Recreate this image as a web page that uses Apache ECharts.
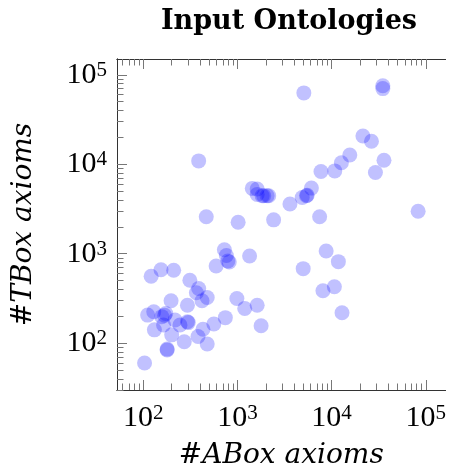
<!DOCTYPE html>
<html>
<head>
<meta charset="utf-8">
<script src="https://cdn.jsdelivr.net/npm/echarts@6/dist/echarts.min.js"></script>
<style>
  html, body { margin: 0; padding: 0; background: #fff; }
  #main { width: 449px; height: 475px; }
</style>
</head>
<body>
<div id="main"></div>
<script>
// ABox / TBox axiom counts per ontology
const aboxAxioms = [
  5070, 35000, 35000, 387, 21500, 26500, 36000, 29200, 15600, 12700,
  10800, 7710, 6100, 5400, 5500, 4870, 3610, 2420, 7460, 83000,
  1436, 1619, 1619, 1829, 2063, 2148, 1900,
  466, 1016, 726, 762, 818, 790, 593, 1345, 4990, 8750, 11800, 8090, 10700, 12900,
  121, 154, 210, 312, 387, 366, 477, 420, 197, 294, 985, 1194, 1619, 1782,
  743, 561, 430, 381, 477, 272, 200, 179, 179, 103, 294, 300, 245, 217, 164,
  173, 157, 129, 111, 131, 168
]
const tboxAxioms = [
  62700, 75500, 70000, 10900, 20700, 18100, 11100, 8090, 12700, 10400,
  8430, 8300, 5410, 4440, 4500, 4250, 3590, 2390, 2590, 2980,
  5370, 5280, 4600, 4450, 4450, 4450, 4450,
  2590, 2250, 1108, 957, 809, 830, 730, 942, 681, 1071, 815, 385, 427, 219,
  560, 663, 653, 505, 409, 366, 324, 298, 298, 266, 316, 245, 266, 157,
  193, 164, 143, 119, 98, 104, 124, 84, 86, 60, 174, 170, 160, 182, 160,
  215, 198, 225, 206, 141, 205
]

const majorTicks = [100, 1000, 10000, 100000]
const minorX = [60, 70, 80, 90, 200, 300, 400, 500, 600, 700, 800, 900,
  2000, 3000, 4000, 5000, 6000, 7000, 8000, 9000,
  20000, 30000, 40000, 50000, 60000, 70000, 80000, 90000]
const minorY = [30, 40, 50, 60, 70, 80, 90, 200, 300, 400, 500, 600, 700, 800, 900,
  2000, 3000, 4000, 5000, 6000, 7000, 8000, 9000,
  20000, 30000, 40000, 50000, 60000, 70000, 80000, 90000]

const xMin = 52.5
const xMax = 162000
const yMin = 30
const yMax = 150000

const serif = 'DejaVu Serif'
const texFont = 'Liberation Serif'
const lineColor = '#333'
const tickColor = '#777'

const points = aboxAxioms.map((a, i) => [a, tboxAxioms[i]])

function powLabel (v) {
  return '{b|10}{s|' + Math.round(Math.log10(v)) + '}'
}
const labelRich = {
  b: { fontFamily: texFont, fontSize: 30, lineHeight: 30, color: '#000' },
  s: { fontFamily: texFont, fontSize: 21, lineHeight: 16, color: '#000', verticalAlign: 'top' }
}

// one log axis per tick set; the lines overlap, only the ticks differ
function logAxis (pos, ticks, len, opts) {
  const horiz = pos === 'bottom' || pos === 'top'
  return Object.assign({
    type: 'log',
    logBase: 10,
    position: pos,
    min: horiz ? xMin : yMin,
    max: horiz ? xMax : yMax,
    splitLine: { show: false },
    axisLine: { show: true, lineStyle: { color: lineColor, width: 1 } },
    axisLabel: { show: false },
    axisTick: {
      show: true,
      inside: true,
      length: len,
      customValues: ticks,
      lineStyle: { color: tickColor, width: 1 }
    }
  }, opts || {})
}

const myChart = echarts.init(document.getElementById('main'))

myChart.setOption({
  backgroundColor: '#fff',
  animation: false,
  title: {
    text: 'Input Ontologies',
    left: 284,
    top: 3,
    textAlign: 'center',
    textStyle: { fontFamily: serif, fontWeight: 'bold', fontSize: 27, color: '#000' }
  },
  grid: {
    left: 117,
    right: -2,
    top: 59,
    bottom: 83
  },
  xAxis: [
    logAxis('bottom', majorTicks, 10, {
      axisLabel: {
        show: true,
        margin: 13,
        customValues: majorTicks,
        formatter: powLabel,
        rich: labelRich
      },
      name: '#ABox axioms',
      nameLocation: 'middle',
      nameGap: 52,
      nameTextStyle: { fontFamily: serif, fontStyle: 'italic', fontSize: 28, color: '#000' }
    }),
    logAxis('bottom', minorX, 6.5),
    logAxis('top', majorTicks, 10),
    logAxis('top', minorX, 6.5)
  ],
  yAxis: [
    logAxis('left', majorTicks, 10, {
      axisLabel: {
        show: true,
        margin: 10,
        customValues: majorTicks,
        formatter: powLabel,
        rich: labelRich
      },
      name: '#TBox axioms',
      nameLocation: 'middle',
      nameRotate: 90,
      nameGap: 79,
      nameTextStyle: { fontFamily: serif, fontStyle: 'italic', fontSize: 28, color: '#000' }
    }),
    logAxis('left', minorY, 6.5)
  ],
  series: [
    {
      type: 'scatter',
      xAxisIndex: 0,
      yAxisIndex: 0,
      data: points,
      symbolSize: 15,
      itemStyle: { color: 'rgba(0, 0, 255, 0.3)' }
    }
  ]
})
</script>
</body>
</html>
